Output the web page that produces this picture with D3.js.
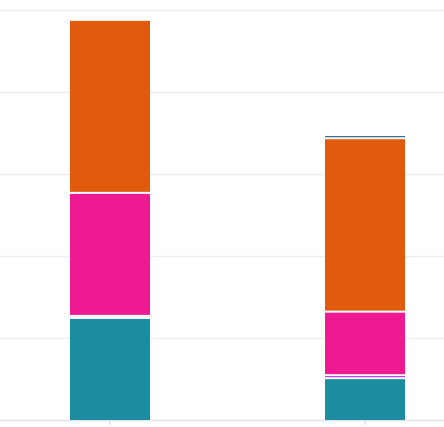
<!DOCTYPE html>
<html>
<head>
<meta charset="utf-8">
<script src="https://cdn.jsdelivr.net/npm/d3@7"></script>
<style>
  html, body { margin: 0; padding: 0; background: #ffffff; }
  svg { display: block; }
</style>
</head>
<body>
<div id="chart"></div>
<script>
// ---- data ----
const categories = ["A", "B"];
const seriesNames = ["teal", "purple", "pink", "orange", "navy"];
const tealValues   = [24.9, 10.2];
const purpleValues = [0.5, 0.73];
const pinkValues   = [30.0, 15.5];
const orangeValues = [42.2, 42.3];
const navyValues   = [0.0, 0.73];
const yTicks = [0, 20, 40, 60, 80, 100];

const colors = {
  teal: "#1a8ea0",
  purple: "#a21ff0",
  pink: "#ef1a91",
  orange: "#e05b0e",
  navy: "#0d4a78"
};

// ---- layout ----
const W = 444, H = 427;
const svg = d3.select("#chart").append("svg").attr("width", W).attr("height", H);

const y = d3.scaleLinear().domain([0, 100]).range([420, 10]);
const x = d3.scaleBand().domain(categories).range([0, 475])
  .paddingInner(0.6863).paddingOuter(0.2745);

// gridlines
const gridAxis = d3.axisLeft(y).tickValues(yTicks).tickSize(-W).tickFormat("");
const g = svg.append("g").attr("transform", "translate(0,0)").call(gridAxis);
g.select(".domain").remove();
g.selectAll(".tick line").attr("stroke", "#efefef").attr("stroke-width", 1.6);
g.selectAll(".tick").filter(d => d === 0).select("line").attr("stroke", "#dfe3e6");

// x ticks
const xAxis = d3.axisBottom(x).tickSize(5).tickFormat("");
const gx = svg.append("g").attr("transform", `translate(0,${y(0)})`).call(xAxis);
gx.select(".domain").remove();
gx.selectAll(".tick line").attr("stroke", "#dfe3e6").attr("stroke-width", 1.5);

// stacked data
const rows = categories.map((c, i) => ({
  cat: c,
  teal: tealValues[i],
  purple: purpleValues[i],
  pink: pinkValues[i],
  orange: orangeValues[i],
  navy: navyValues[i]
}));
const stack = d3.stack().keys(seriesNames)(rows);

const gap = 1;
stack.forEach((layer, li) => {
  svg.append("g").attr("fill", colors[layer.key])
    .selectAll("rect").data(layer).join("rect")
    .attr("x", d => x(d.data.cat))
    .attr("width", x.bandwidth())
    .each(function(d) {
      const top = y(d[1]) + gap;
      const bot = y(d[0]) - (li === 0 ? 0 : gap);
      const h = Math.max(0, bot - top);
      d3.select(this).attr("y", top).attr("height", h);
    });
});
</script>
</body>
</html>
